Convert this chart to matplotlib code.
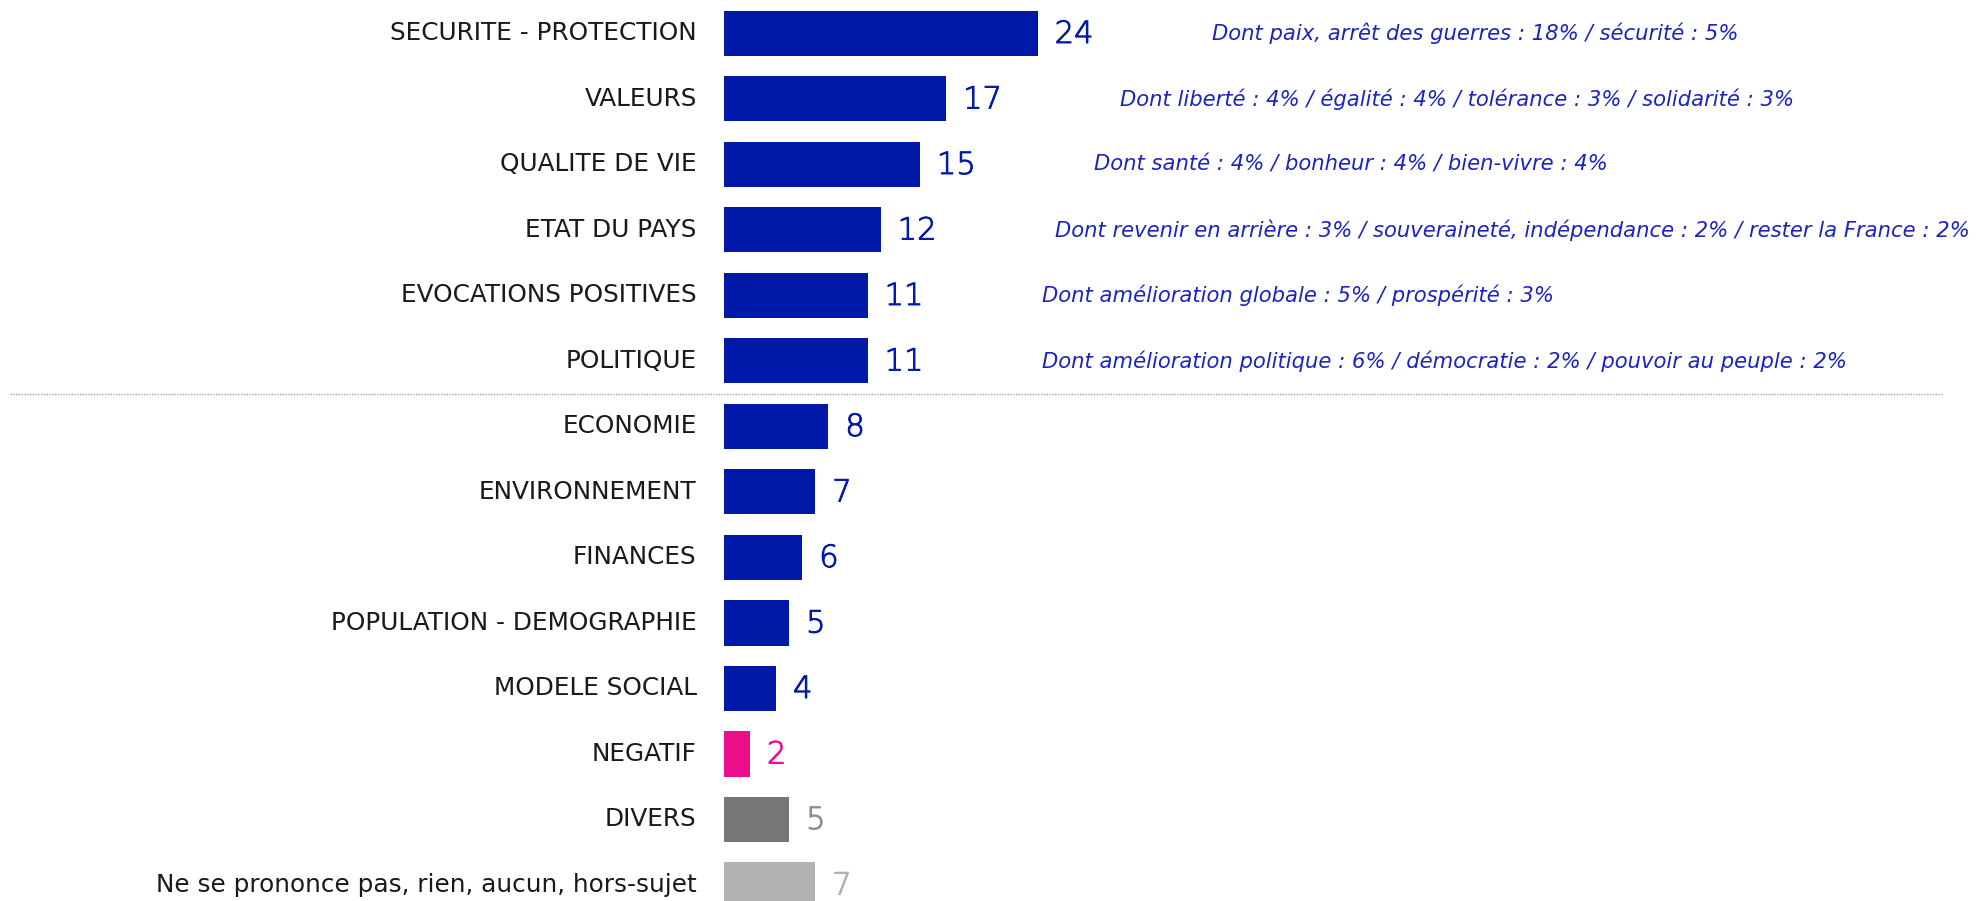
import matplotlib
matplotlib.use("Agg")
import matplotlib.pyplot as plt
import matplotlib.patheffects as pe

categories = [
    "SECURITE - PROTECTION", "VALEURS", "QUALITE DE VIE", "ETAT DU PAYS",
    "EVOCATIONS POSITIVES", "POLITIQUE", "ECONOMIE", "ENVIRONNEMENT",
    "FINANCES", "POPULATION - DEMOGRAPHIE", "MODELE SOCIAL", "NEGATIF",
    "DIVERS", "Ne se prononce pas, rien, aucun, hors-sujet",
]
values = [24, 17, 15, 12, 11, 11, 8, 7, 6, 5, 4, 2, 5, 7]
details = [
    "Dont paix, arrêt des guerres : 18% / sécurité : 5%",
    "Dont liberté : 4% / égalité : 4% / tolérance : 3% / solidarité : 3%",
    "Dont santé : 4% / bonheur : 4% / bien-vivre : 4%",
    "Dont revenir en arrière : 3% / souveraineté, indépendance : 2% / rester la France : 2%",
    "Dont amélioration globale : 5% / prospérité : 3%",
    "Dont amélioration politique : 6% / démocratie : 2% / pouvoir au peuple : 2%",
]

BLUE = "#0019A8"
PINK = "#EC0C8C"
DGRAY = "#767676"
LGRAY = "#B2B2B2"
bar_colors = [BLUE] * 11 + [PINK, DGRAY, LGRAY]
val_colors = [BLUE] * 11 + [PINK, "#8C8C8C", "#B0B0B0"]
NOTE = "#1A24C0"

W, H = 1984, 901
fig = plt.figure(figsize=(W / 100, H / 100), dpi=100)
ax = fig.add_axes([0, 0, 1, 1])

x0_px = 723.7
px_per_unit = 13.08
top_px = 33.5
pitch = 65.5
ax.set_xlim(-x0_px / px_per_unit, (W - x0_px) / px_per_unit)
ax.set_ylim((H - top_px) / pitch, -top_px / pitch)
ax.axis("off")

ys = list(range(len(categories)))
ax.barh(ys, values, height=45 / pitch, color=bar_colors)

FONT = "DejaVu Sans"
for i, (c, v) in enumerate(zip(categories, values)):
    ax.annotate(c, xy=(0, i), xytext=(-27, 0), textcoords="offset pixels",
                ha="right", va="center", fontsize=17.8, color="#1A1A1A",
                family=FONT)
    t = ax.annotate(str(v), xy=(v, i), xytext=(17, -1), textcoords="offset pixels",
                    ha="left", va="center", fontsize=22, color=val_colors[i],
                    family=FONT, fontweight="light")
    t.set_path_effects([pe.withStroke(linewidth=0.7, foreground=val_colors[i])])
for i, d in enumerate(details):
    ax.annotate(d, xy=(values[i], i), xytext=(174, 0), textcoords="offset pixels",
                ha="left", va="center", fontsize=15.2, color=NOTE,
                family=FONT, style="italic")

ax.axhline(5.5, xmin=10 / W, xmax=1942 / W, color="#A0A0A0", lw=1,
           linestyle=(0, (1, 1)))

fig.savefig("out.png", dpi=100)
